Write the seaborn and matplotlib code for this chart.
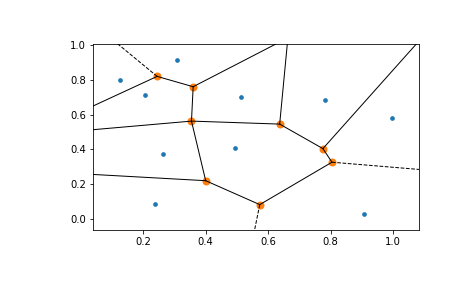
import matplotlib
matplotlib.use("Agg")
import matplotlib.pyplot as plt
import seaborn as sns
import numpy as np
import pandas as pd

# Input points
pts_x = [0.1265, 0.3077, 0.206, 0.512, 0.264, 0.494, 0.238, 0.7815, 0.9955, 0.906]
pts_y = [0.798, 0.918, 0.712, 0.700, 0.374, 0.410, 0.087, 0.683, 0.580, 0.024]

# Voronoi vertices (visible ones first, then ones beyond the view)
vert_x = [0.2447, 0.360, 0.3546, 0.400, 0.6367, 0.775, 0.804, 0.573,
          -0.05, -0.05, -0.05, 0.724, 0.666, 1.1196]
vert_y = [0.8206, 0.761, 0.5627, 0.219, 0.5455, 0.404, 0.3256, 0.081,
          0.575, 0.499, 0.264, 1.10, 1.10, 1.10]

# Finite ridges (index pairs into vertices)
finite_ridges = [(0, 1), (1, 2), (2, 3), (2, 4), (3, 7), (7, 6), (6, 5), (5, 4),
                 (0, 8), (2, 9), (3, 10), (1, 11), (4, 12), (5, 13)]

# Infinite ridges: start vertex index and far point
inf_start = [0, 6, 7]
inf_far_x = [0.0568, 1.15, 0.5468]
inf_far_y = [1.10, 0.2738, -0.15]

DPI = 72
fig = plt.figure(figsize=(465 / DPI, 288 / DPI), dpi=DPI)
ax = fig.add_axes([0.2, 0.2014, 0.7011, 0.6458])

pts = pd.DataFrame({"x": pts_x, "y": pts_y})
verts = pd.DataFrame({"x": vert_x, "y": vert_y})

sns.scatterplot(data=pts, x="x", y="y", ax=ax, color="#1f77b4", s=22,
                linewidth=0, legend=False)
sns.scatterplot(data=verts, x="x", y="y", ax=ax, color="#ff7f0e", s=64,
                linewidth=0, legend=False)

for i, j in finite_ridges:
    ax.plot([vert_x[i], vert_x[j]], [vert_y[i], vert_y[j]], color="black",
            lw=1.0, ls="-")
for k, i in enumerate(inf_start):
    ax.plot([vert_x[i], inf_far_x[k]], [vert_y[i], inf_far_y[k]], color="black",
            lw=1.0, ls="--")

ptp_x = max(pts_x) - min(pts_x)
ptp_y = max(pts_y) - min(pts_y)
ax.set_xlim(min(pts_x) - 0.1 * ptp_x, max(pts_x) + 0.1 * ptp_x)
ax.set_ylim(min(pts_y) - 0.1 * ptp_y, max(pts_y) + 0.1 * ptp_y)
ax.set_xlabel("")
ax.set_ylabel("")

fig.savefig("out.png", dpi=DPI)
